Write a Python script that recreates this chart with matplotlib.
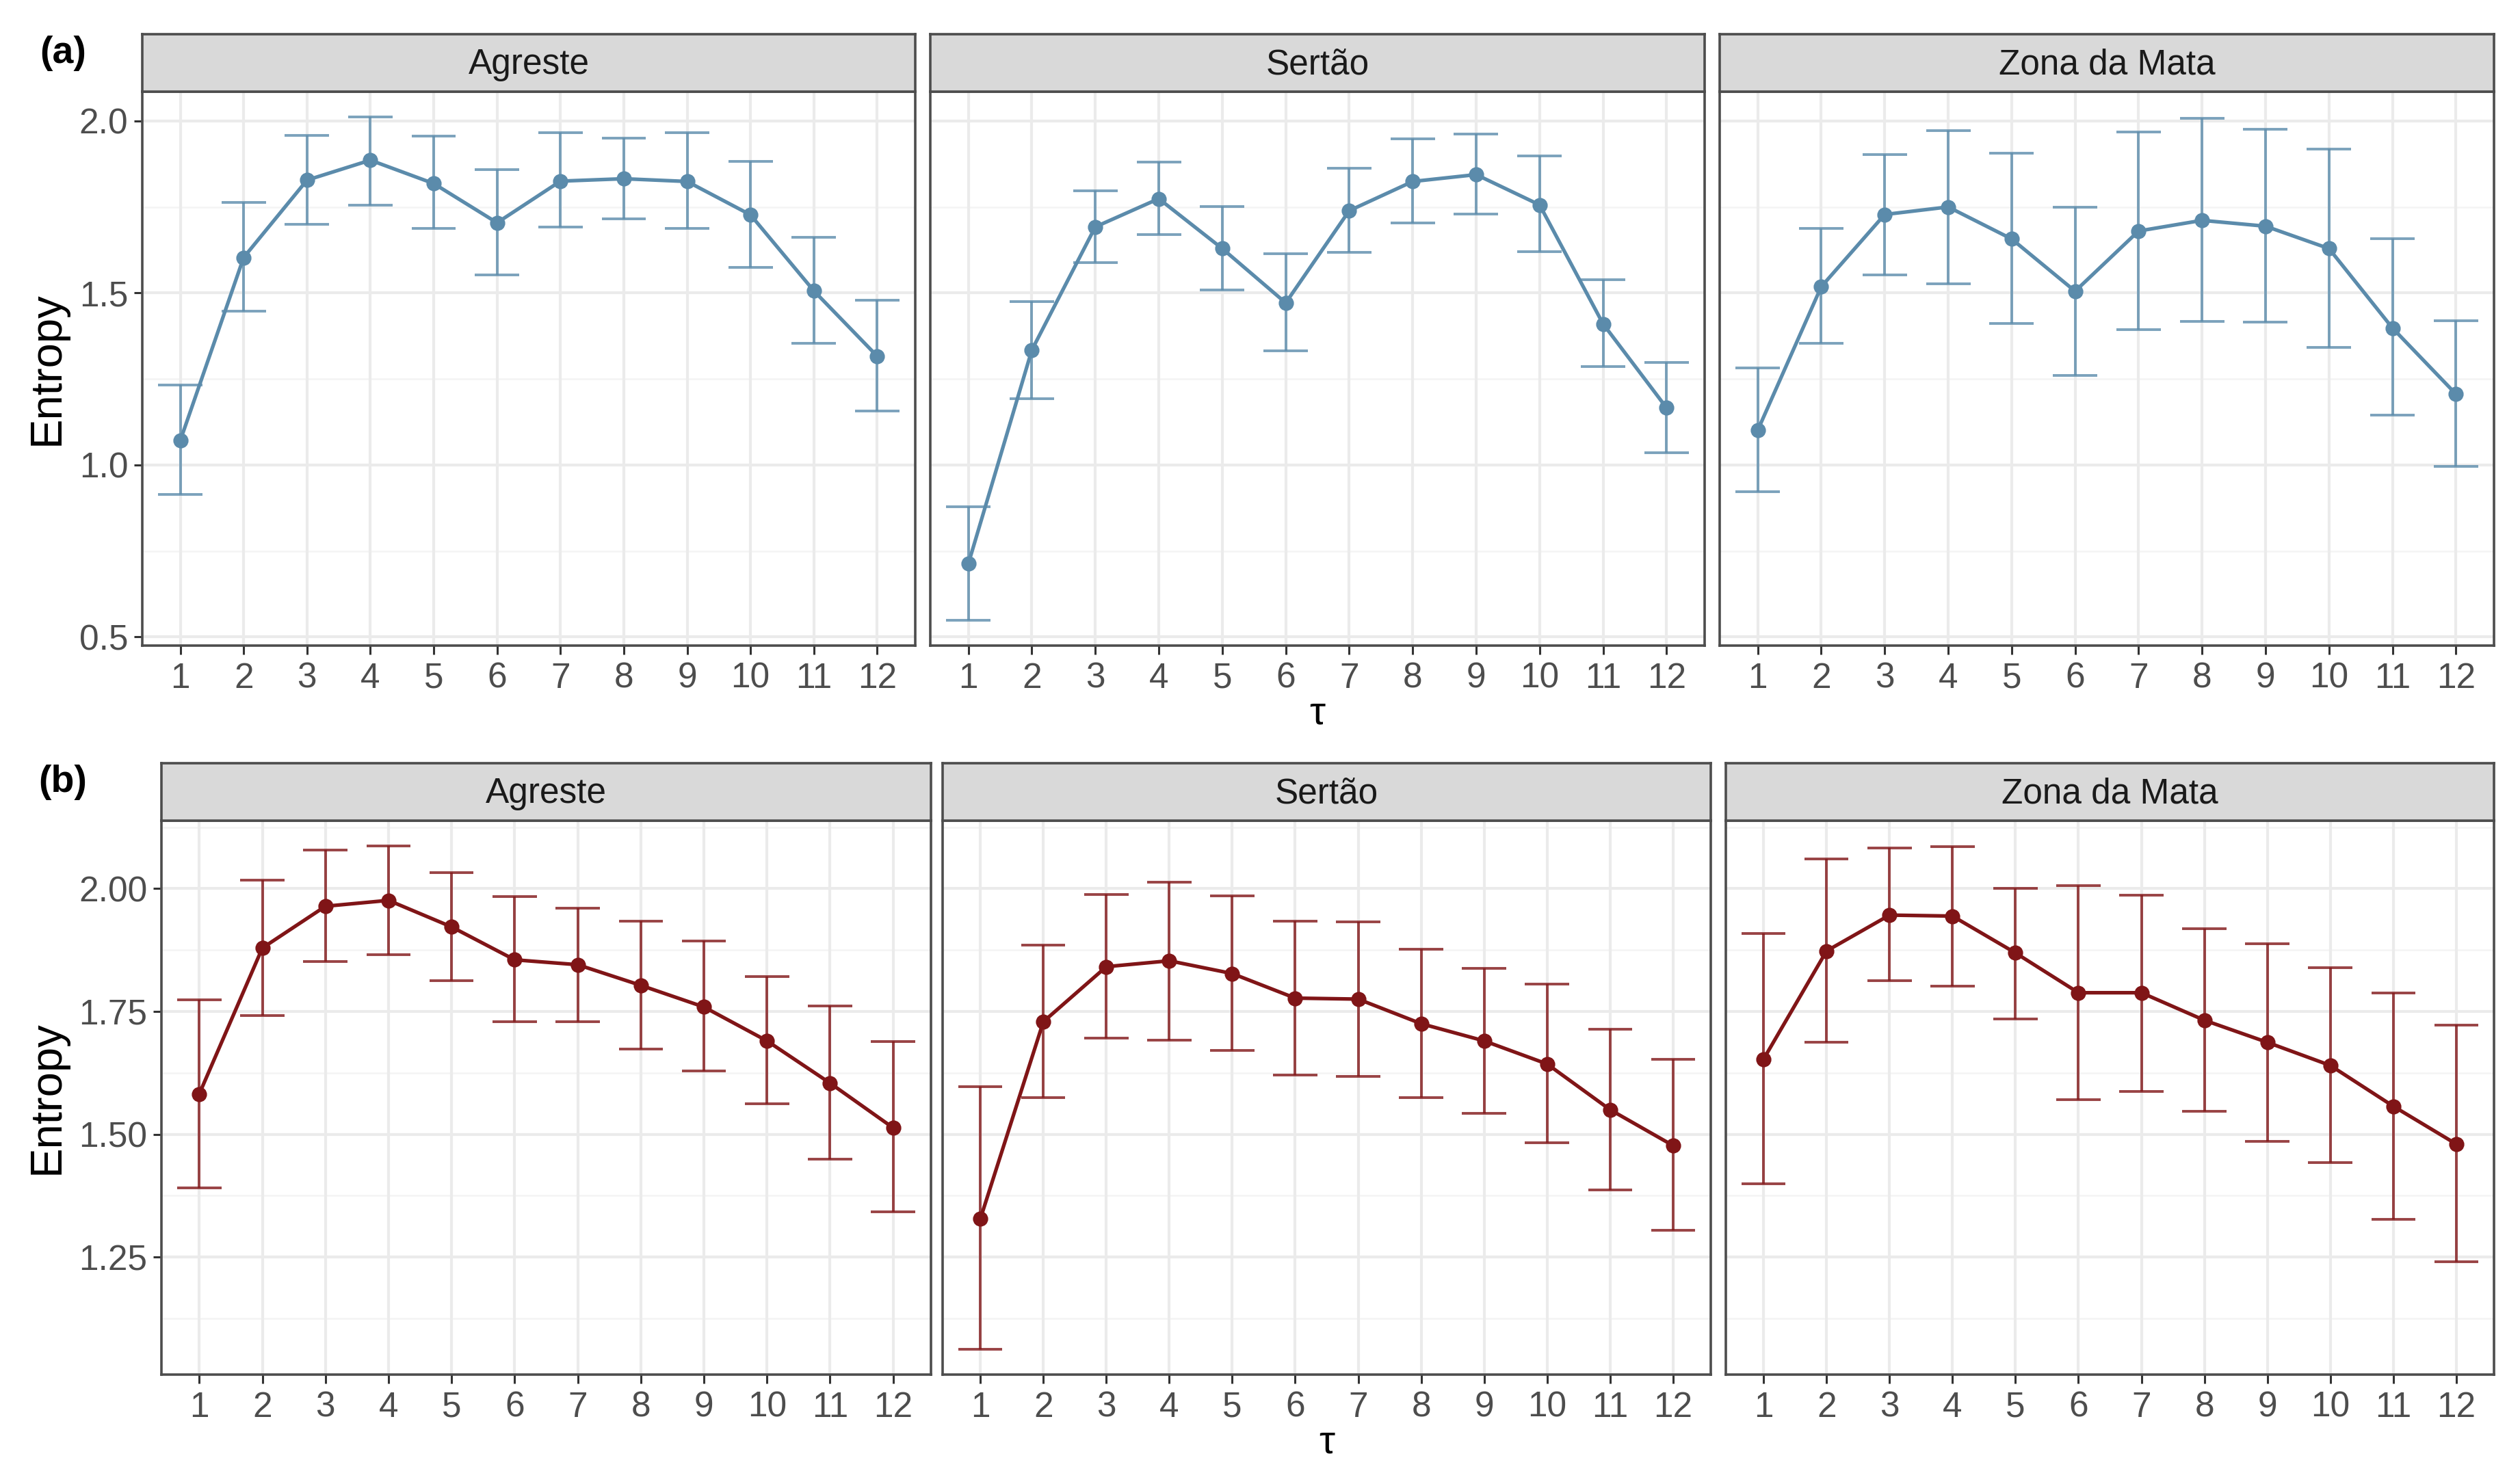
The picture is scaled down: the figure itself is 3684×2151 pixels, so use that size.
import numpy as np
import matplotlib
matplotlib.use("Agg")
import matplotlib.pyplot as plt
from matplotlib.ticker import FixedLocator

plt.rcParams['font.family'] = ['Liberation Sans', 'DejaVu Sans']

tau = list(range(1, 13))
regions = ["Agreste", "Sertão", "Zona da Mata"]

# ---- Panel (a) ----
a_agreste_mean = [1.071, 1.603, 1.828, 1.886, 1.818, 1.704, 1.825, 1.832, 1.824, 1.727, 1.506, 1.316]
a_agreste_low  = [0.914, 1.447, 1.699, 1.756, 1.688, 1.552, 1.692, 1.716, 1.688, 1.575, 1.354, 1.156]
a_agreste_high = [1.233, 1.763, 1.958, 2.012, 1.956, 1.859, 1.965, 1.950, 1.965, 1.883, 1.661, 1.479]

a_sertao_mean = [0.713, 1.334, 1.692, 1.774, 1.629, 1.471, 1.739, 1.824, 1.844, 1.756, 1.410, 1.166]
a_sertao_low  = [0.548, 1.192, 1.588, 1.669, 1.509, 1.331, 1.618, 1.703, 1.729, 1.619, 1.285, 1.036]
a_sertao_high = [0.879, 1.475, 1.797, 1.880, 1.751, 1.614, 1.863, 1.948, 1.962, 1.898, 1.538, 1.297]

a_zona_mean = [1.101, 1.518, 1.728, 1.750, 1.657, 1.505, 1.680, 1.711, 1.694, 1.629, 1.398, 1.206]
a_zona_low  = [0.922, 1.353, 1.553, 1.526, 1.412, 1.261, 1.394, 1.417, 1.415, 1.341, 1.145, 0.996]
a_zona_high = [1.281, 1.688, 1.903, 1.972, 1.906, 1.750, 1.968, 2.007, 1.976, 1.919, 1.657, 1.420]

# ---- Panel (b) ----
b_agreste_mean = [1.582, 1.879, 1.964, 1.976, 1.922, 1.855, 1.845, 1.803, 1.759, 1.690, 1.604, 1.513]
b_agreste_low  = [1.391, 1.741, 1.852, 1.865, 1.813, 1.729, 1.729, 1.674, 1.629, 1.562, 1.449, 1.342]
b_agreste_high = [1.774, 2.017, 2.079, 2.087, 2.032, 1.984, 1.960, 1.934, 1.893, 1.821, 1.761, 1.689]

b_sertao_mean = [1.328, 1.729, 1.841, 1.853, 1.827, 1.777, 1.775, 1.725, 1.690, 1.643, 1.550, 1.477]
b_sertao_low  = [1.062, 1.574, 1.695, 1.692, 1.670, 1.621, 1.617, 1.574, 1.543, 1.482, 1.386, 1.305]
b_sertao_high = [1.597, 1.885, 1.988, 2.013, 1.985, 1.933, 1.932, 1.877, 1.837, 1.805, 1.714, 1.652]

b_zona_mean = [1.653, 1.873, 1.946, 1.944, 1.869, 1.788, 1.788, 1.732, 1.687, 1.640, 1.557, 1.480]
b_zona_low  = [1.399, 1.687, 1.813, 1.801, 1.735, 1.571, 1.587, 1.546, 1.485, 1.442, 1.327, 1.241]
b_zona_high = [1.908, 2.060, 2.082, 2.085, 2.001, 2.006, 1.987, 1.918, 1.888, 1.839, 1.788, 1.722]

rows = [
    dict(label="(a)", color="#5B8BAB",
         data=[(a_agreste_mean, a_agreste_low, a_agreste_high),
               (a_sertao_mean, a_sertao_low, a_sertao_high),
               (a_zona_mean, a_zona_low, a_zona_high)],
         major=[0.5, 1.0, 1.5, 2.0], fmt="{:.1f}",
         strip=(50, 134), panel=(134, 944),
         cols=[(208, 1338), (1360, 2492), (2514, 3646)]),
    dict(label="(b)", color="#801517",
         data=[(b_agreste_mean, b_agreste_low, b_agreste_high),
               (b_sertao_mean, b_sertao_low, b_sertao_high),
               (b_zona_mean, b_zona_low, b_zona_high)],
         major=[1.25, 1.50, 1.75, 2.00], fmt="{:.2f}",
         strip=(1116, 1200), panel=(1200, 2010),
         cols=[(236, 1361), (1378, 2501), (2523, 3646)]),
]

W, H = 3684, 2151
DPI = 200
fig = plt.figure(figsize=(W / DPI, H / DPI), dpi=DPI)
fig.patch.set_facecolor("white")

border_col = "#4D4D4D"
grid_major = "#EBEBEB"
grid_minor = "#F4F4F4"

def rect(x0, x1, y0, y1):
    return [x0 / W, 1 - y1 / H, (x1 - x0) / W, (y1 - y0) / H]

for r in rows:
    allv = np.concatenate([np.r_[lo, hi] for (_, lo, hi) in r["data"]])
    vmin, vmax = allv.min(), allv.max()
    pad = 0.05 * (vmax - vmin)
    ylim = (vmin - pad, vmax + pad)
    step = r["major"][1] - r["major"][0]
    minors = [m + step / 2 for m in np.arange(r["major"][0] - step, r["major"][-1] + step, step)]
    minors = [m for m in minors if ylim[0] <= m <= ylim[1]]
    for ci, (x0, x1) in enumerate(r["cols"]):
        mean, lo, hi = r["data"][ci]
        ax = fig.add_axes(rect(x0, x1, r["panel"][0], r["panel"][1]))
        ax.set_xlim(0.4, 12.6)
        ax.set_ylim(*ylim)
        ax.set_facecolor("white")
        for m in minors:
            ax.axhline(m, color=grid_minor, lw=0.9, zorder=0)
        for m in r["major"]:
            ax.axhline(m, color=grid_major, lw=1.5, zorder=0)
        for t in tau:
            ax.axvline(t, color=grid_major, lw=1.5, zorder=0)
        tx = np.array(tau)
        ax.vlines(tx, lo, hi, color=r["color"], lw=1.4, alpha=0.8, zorder=2)
        ax.hlines(lo, tx - 0.35, tx + 0.35, color=r["color"], lw=1.4, alpha=0.8, zorder=2)
        ax.hlines(hi, tx - 0.35, tx + 0.35, color=r["color"], lw=1.4, alpha=0.8, zorder=2)
        ax.plot(tau, mean, color=r["color"], lw=1.9, marker="o", ms=7.0, zorder=3)
        ax.xaxis.set_major_locator(FixedLocator(tau))
        ax.set_xticklabels([str(t) for t in tau])
        ax.tick_params(axis="x", length=4.5, width=1.1, color="#333333", labelsize=18.5,
                       labelcolor="#4D4D4D", pad=4)
        if ci == 0:
            ax.yaxis.set_major_locator(FixedLocator(r["major"]))
            ax.set_yticklabels([r["fmt"].format(v) for v in r["major"]])
            ax.tick_params(axis="y", length=4.5, width=1.1, color="#333333", labelsize=18.5,
                           labelcolor="#4D4D4D", pad=3)
            ax.set_ylabel("Entropy", fontsize=23.5, color="black", labelpad=6)
        else:
            ax.set_yticks([])
        if ci == 1:
            ax.set_xlabel("τ", fontsize=21, color="black", labelpad=0)
        for s in ax.spines.values():
            s.set_color(border_col)
            s.set_linewidth(1.3)
        sax = fig.add_axes(rect(x0, x1, r["strip"][0], r["strip"][1]))
        sax.set_facecolor("#D9D9D9")
        sax.set_xticks([]); sax.set_yticks([])
        for s in sax.spines.values():
            s.set_color(border_col)
            s.set_linewidth(1.3)
        sax.text(0.5, 0.47, regions[ci], ha="center", va="center", fontsize=18.5,
                 color="#1A1A1A", transform=sax.transAxes)
    fig.text(92 / W, 1 - (r["strip"][0] + 28) / H, r["label"], fontsize=20, fontweight="bold",
             ha="center", va="center")

fig.savefig("out.png", dpi=DPI, facecolor="white")
